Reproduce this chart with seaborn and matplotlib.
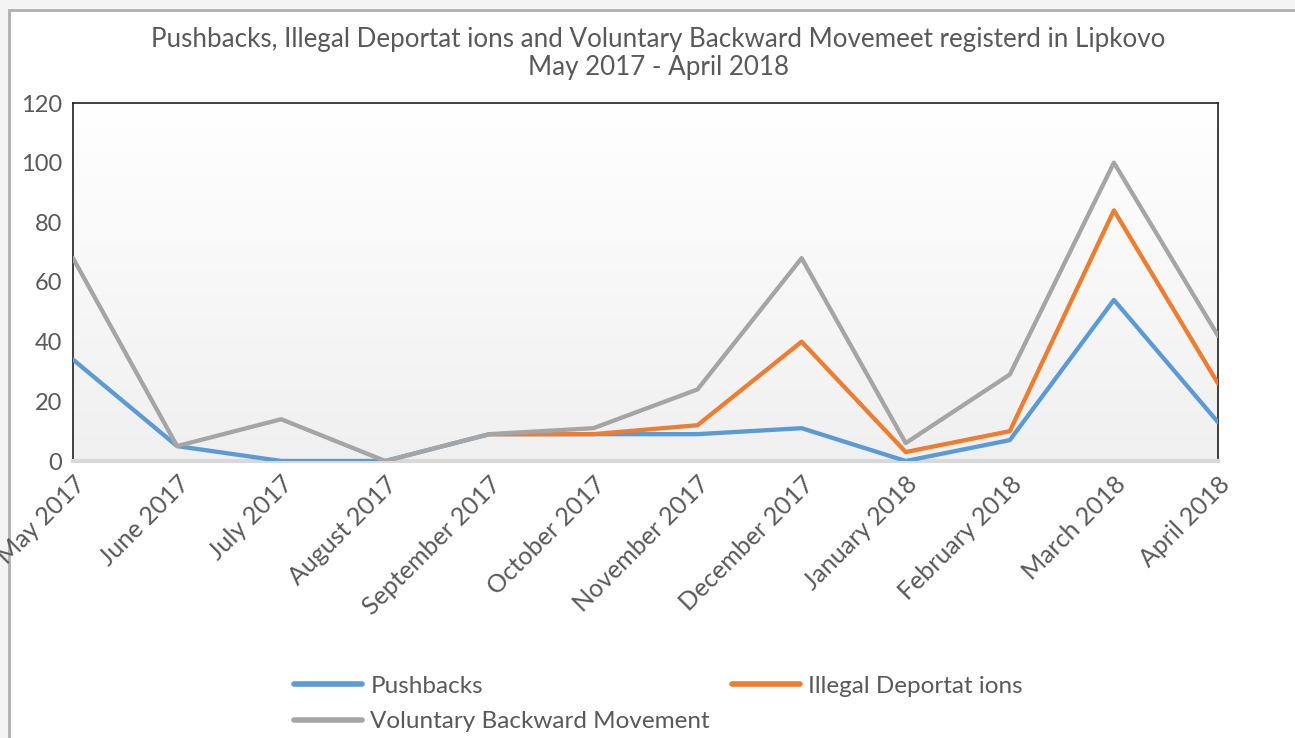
import matplotlib

matplotlib.use("Agg")
import matplotlib.pyplot as plt
import numpy as np
import pandas as pd
import seaborn as sns
from matplotlib.patches import Rectangle

MONTHS = [
    "May 2017", "June 2017", "July 2017", "August 2017", "September 2017",
    "October 2017", "November 2017", "December 2017", "January 2018",
    "February 2018", "March 2018", "April 2018",
]
PUSHBACKS = [34, 5, 0, 0, 9, 9, 9, 11, 0, 7, 54, 13]
ILLEGAL_DEPORTATIONS = [np.nan, np.nan, np.nan, np.nan, 9, 9, 12, 40, 3, 10, 84, 26]
VOLUNTARY_BACKWARD = [68, 5, 14, 0, 9, 11, 24, 68, 6, 29, 100, 42]

SERIES_NAMES = ["Pushbacks", "Illegal Deportat ions", "Voluntary Backward Movement"]
COLORS = ["#5b9bd5", "#ed7d31", "#a5a5a5"]
TEXT_COLOR = "#595959"


def _build_frame() -> pd.DataFrame:
    rows = []
    for name, values in zip(SERIES_NAMES, [PUSHBACKS, ILLEGAL_DEPORTATIONS, VOLUNTARY_BACKWARD]):
        for idx, value in enumerate(values):
            rows.append({"month_idx": idx, "value": value, "series": name})
    return pd.DataFrame(rows)


def main() -> None:
    sns.set_theme(style="white")
    plt.rcParams["font.family"] = ["Lato", "DejaVu Sans"]

    fig = plt.figure(figsize=(12.95, 7.38), dpi=100)
    fig.patch.set_facecolor("#f4f4f4")
    # chart area frame
    fig.patches.append(
        Rectangle((9 / 1295, -0.01), 1.0, 1.01 - 10 / 738, transform=fig.transFigure,
                  facecolor="white", edgecolor="#b0b0b0", linewidth=2, zorder=-10)
    )

    ax = fig.add_axes([73 / 1295, 1 - 461 / 738, (1218 - 73) / 1295, (461 - 103) / 738])
    ax.set_facecolor("none")

    # vertical gradient in plot area
    grad = np.linspace(1, 0, 256).reshape(-1, 1)
    ax.imshow(grad, extent=[0, 1, 0, 1], transform=ax.transAxes, aspect="auto",
              cmap=matplotlib.colors.LinearSegmentedColormap.from_list("g", ["#f0f0f0", "#ffffff"]),
              vmin=0, vmax=1, zorder=0)

    plot_df = _build_frame()
    sns.lineplot(
        data=plot_df, x="month_idx", y="value", hue="series",
        hue_order=SERIES_NAMES, palette=COLORS, linewidth=3.1, ax=ax,
        legend=False, zorder=3,
    )

    ax.set_xlim(0, len(MONTHS) - 1)
    ax.set_ylim(0, 120)
    ax.set_yticks(range(0, 121, 20))
    ax.set_xticks(range(len(MONTHS)))
    ax.set_xticklabels(MONTHS, rotation=45, ha="right", rotation_mode="anchor")
    ax.tick_params(axis="both", length=0, labelcolor=TEXT_COLOR)
    ax.tick_params(axis="x", pad=8, labelsize=18)
    ax.tick_params(axis="y", pad=8, labelsize=17)
    ax.set_xlabel("")
    ax.set_ylabel("")

    for side in ["left", "right", "top"]:
        ax.spines[side].set_color("#202020")
        ax.spines[side].set_linewidth(1.2)
    ax.spines["bottom"].set_color("#d9d9d9")
    ax.spines["bottom"].set_linewidth(3)

    fig.text(658 / 1295, 1 - 40 / 738, "Pushbacks, Illegal Deportat ions and Voluntary Backward Movemeet registerd in Lipkovo",
             ha="center", va="center", fontsize=18.7, color=TEXT_COLOR)
    fig.text(658 / 1295, 1 - 67 / 738, "May 2017 - April 2018",
             ha="center", va="center", fontsize=18.7, color=TEXT_COLOR)

    # legend fills column-wise, so order entries to read row-wise like the original
    order = [0, 2, 1]
    handles = [plt.Line2D([], [], color=COLORS[i], linewidth=4) for i in order]
    labels = [SERIES_NAMES[i] for i in order]
    fig.legend(
        handles, labels, loc="upper left", bbox_to_anchor=(284 / 1295, 1 - 666 / 738),
        ncol=2, frameon=False, fontsize=17.5, labelcolor=TEXT_COLOR,
        handlelength=2.8, handletextpad=0.35, columnspacing=0.9, labelspacing=0.6,
        borderaxespad=0,
    )

    fig.savefig("out.png", dpi=100)
    plt.close(fig)


if __name__ == "__main__":
    main()
